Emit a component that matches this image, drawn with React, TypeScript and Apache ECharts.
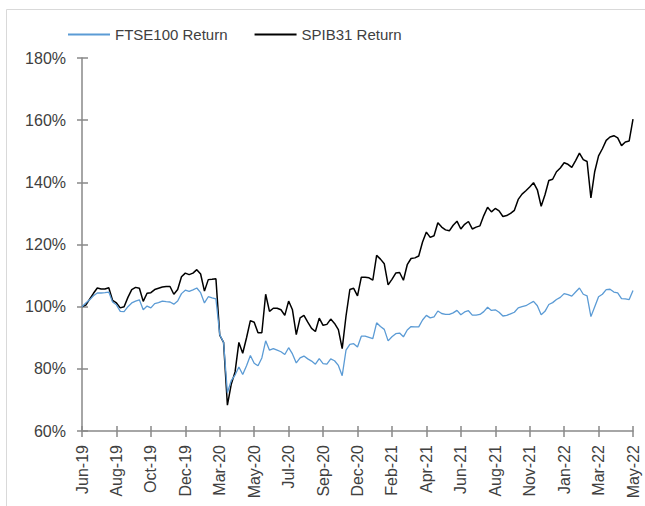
import React, { useEffect, useRef } from "react";
import * as echarts from "echarts";

const tickLabels = [
  "Jun-19", "Aug-19", "Oct-19", "Dec-19", "Mar-20", "May-20", "Jul-20", "Sep-20", "Dec-20",
  "Feb-21", "Apr-21", "Jun-21", "Aug-21", "Nov-21", "Jan-22", "Mar-22", "May-22",
];
const STEP = 9;

const spib31 = [
  100, 100.5, 102.4, 104.3, 106, 105.7, 105.7, 106.1, 102, 101.2,
  99.6, 100, 103, 105.5, 106.2, 105.9, 101.7, 104.3, 104.5, 105.5,
  105.9, 106.3, 106.5, 106.5, 104, 105.5, 109.6, 110.8, 110.3, 110.8,
  111.9, 110.5, 105, 108.7, 108.8, 109, 90.8, 88.5, 68.3, 75,
  79, 88.5, 85, 90, 95.5, 95, 91.6, 91.6, 104, 98.5,
  99.5, 99.5, 99, 97.2, 101.8, 99, 91, 96.4, 97.2, 95,
  93, 92, 96.3, 94, 94.3, 96, 94.6, 92.6, 86.5, 97,
  105.5, 105.9, 103.5, 109.5, 109.5, 109.3, 108.5, 116.5, 115.3, 113.8,
  107, 108.8, 110.8, 111, 108.5, 113.5, 115.5, 115.7, 116.3, 120.8,
  124, 122.3, 122.8, 127, 125.6, 124.7, 124.4, 126.2, 127.5, 125,
  126.5, 127.4, 125, 125.6, 126, 129.3, 132, 130.5, 131.6, 130.8,
  129, 129.3, 130, 131, 134.5, 136.2, 137.3, 138.5, 139.9, 137.6,
  132.3, 136, 140.6, 141, 143.4, 144.6, 146.3, 145.8, 144.8, 147,
  149.4, 147.3, 146.7, 135, 143.5, 148.5, 150.8, 153.5, 154.6, 155,
  154.3, 151.8, 153, 153.3, 160.3,
];

const ftse100 = [
  100, 101.2, 102.2, 103.5, 104.4, 104.4, 104.5, 104.7, 101.5, 100.6,
  98.5, 98.4, 100, 101.2, 101.8, 102.2, 99, 100.2, 99.6, 101,
  101.3, 101.8, 101.6, 101.5, 100.8, 101.8, 104.2, 105.3, 104.9, 105.4,
  106, 104.5, 101.2, 103.2, 102.8, 102.5, 91, 88.5, 72.3, 76.2,
  78, 80.6, 78.2, 81, 84.3, 81.8, 81, 83.5, 89, 86,
  86.5, 86, 85.5, 84.6, 86.8, 84.8, 81.9, 83.5, 84.1, 83.2,
  82.5, 81.5, 83.3, 81.7, 81.5, 83.2, 82.6, 81.1, 77.8, 86,
  87.9, 88.1, 87, 90.5, 90.5, 90.1, 89.7, 94.8, 93.6, 92.7,
  89, 90.3, 91.3, 91.5, 90.3, 92.5, 93.6, 93.5, 93.5, 95.7,
  97.2, 96.4, 96.7, 98.6, 97.8, 97.5, 97.5, 98, 98.8, 97.4,
  98.3, 98.7, 97.3, 97.3, 97.5, 98.4, 99.8, 98.8, 99, 98.2,
  97, 97.2, 97.7, 98.2, 99.6, 100, 100.3, 101, 101.7, 100.3,
  97.4, 98.5, 100.7, 101.3, 102.3, 103, 104.2, 103.9, 103.4, 104.7,
  106, 104, 103.5, 96.8, 100, 103.2, 104, 105.5, 105.6, 104.7,
  104.4, 102.6, 102.5, 102.3, 105.2,
];

const categories = spib31.map((_, i) =>
  i % STEP === 0 ? tickLabels[i / STEP] : `${tickLabels[Math.floor(i / STEP)]}#${i % STEP}`
);

const FONT = "'Liberation Sans', Arial, sans-serif";
const AXIS = "#898989";
const TEXT = "#404040";

export default function App() {
  const ref = useRef<HTMLDivElement>(null);
  useEffect(() => {
    if (!ref.current) return;
    const chart = echarts.init(ref.current, undefined, { renderer: "svg" });
    const baseX = {
      type: "category" as const,
      data: categories,
      boundaryGap: false,
      position: "bottom" as const,
    };
    const baseY = {
      type: "value" as const,
      min: 60,
      max: 180,
      interval: 20,
      position: "left" as const,
      splitLine: { show: false },
    };
    chart.setOption({
      animation: false,
      backgroundColor: "#ffffff",
      textStyle: { fontFamily: FONT },
      graphic: [
        {
          type: "rect",
          shape: { x: 6.5, y: 9.5, width: 660, height: 520 },
          style: { fill: "none", stroke: "#d9d9d9", lineWidth: 1 },
          silent: true,
        },
      ],
      legend: {
        left: 68,
        top: 27,
        padding: 0,
        itemGap: 27,
        itemWidth: 42,
        itemHeight: 2,
        icon: "rect",
        textStyle: { fontFamily: FONT, fontSize: 15, color: TEXT },
        data: ["FTSE100 Return", "SPIB31 Return"],
      },
      grid: { left: 82, right: 12, top: 58, bottom: 75 },
      xAxis: [
        {
          ...baseX,
          axisLine: { show: true, lineStyle: { color: AXIS, width: 1.5 } },
          axisTick: { show: true, interval: STEP - 1, length: 6, lineStyle: { color: AXIS, width: 1.5 } },
          axisLabel: {
            interval: STEP - 1,
            rotate: 90,
            margin: 14,
            fontFamily: FONT,
            fontSize: 16,
            color: TEXT,
          },
        },
        {
          ...baseX,
          axisLine: { show: false },
          axisTick: { show: true, inside: true, interval: STEP - 1, length: 5, lineStyle: { color: AXIS, width: 1.5 } },
          axisLabel: { show: false },
        },
      ],
      yAxis: [
        {
          ...baseY,
          axisLine: { show: true, lineStyle: { color: AXIS, width: 1.5 } },
          axisTick: { show: true, length: 5, lineStyle: { color: AXIS, width: 1.5 } },
          axisLabel: {
            formatter: "{value}%",
            margin: 16,
            fontFamily: FONT,
            fontSize: 16,
            color: TEXT,
          },
        },
        {
          ...baseY,
          axisLine: { show: false },
          axisTick: { show: true, inside: true, length: 6, lineStyle: { color: AXIS, width: 1.5 } },
          axisLabel: { show: false },
        },
      ],
      series: [
        {
          name: "FTSE100 Return",
          type: "line",
          data: ftse100,
          symbol: "none",
          itemStyle: { color: "#5b9bd5" },
          lineStyle: { color: "#5b9bd5", width: 1.3 },
          z: 3,
        },
        {
          name: "SPIB31 Return",
          type: "line",
          data: spib31,
          symbol: "none",
          itemStyle: { color: "#000000" },
          lineStyle: { color: "#000000", width: 1.5 },
          z: 2,
        },
      ],
    });
    return () => chart.dispose();
  }, []);
  return (
    <div
      ref={ref}
      style={{ position: "absolute", left: 0, top: 0, width: 645, height: 506, background: "#fff" }}
    />
  );
}
